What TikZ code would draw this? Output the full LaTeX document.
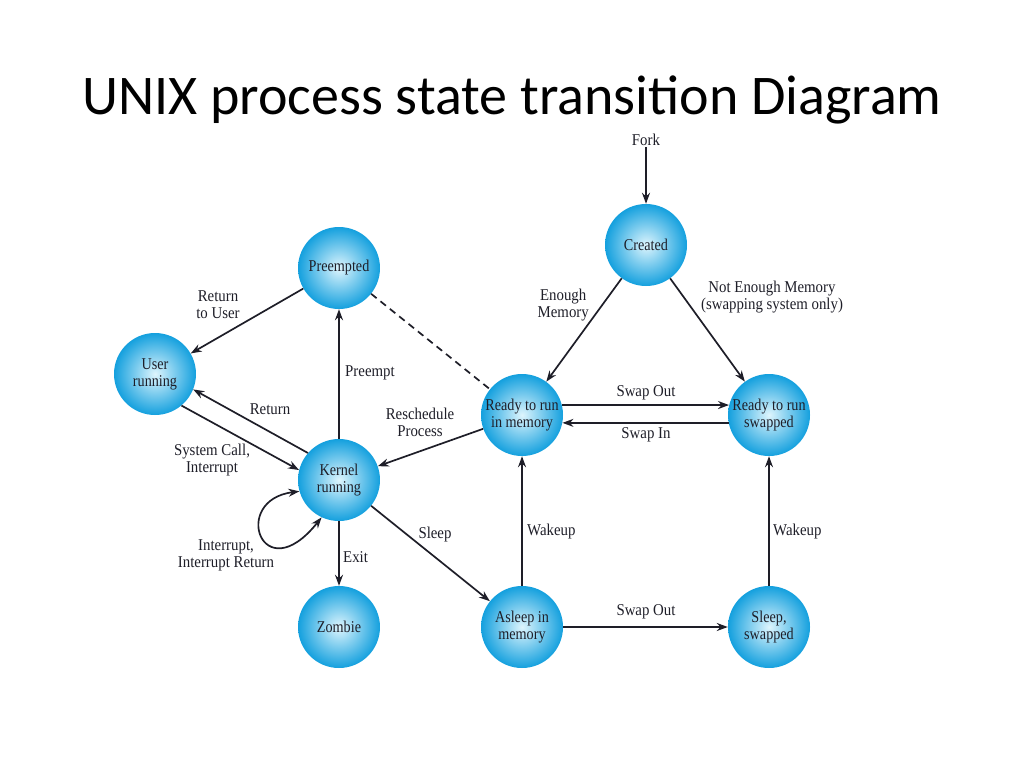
\documentclass[tikz,border=0pt]{standalone}
\usepackage{fontspec}
\setmainfont{Liberation Serif}[FakeStretch=0.9]
\newfontfamily\nodefont{Liberation Serif}[FakeStretch=0.86]
\newfontfamily\titlefont{Carlito}
\usetikzlibrary{arrows.meta}
\definecolor{ballin}{RGB}{222,245,253}
\definecolor{ballout}{RGB}{20,160,222}
\definecolor{ink}{RGB}{30,30,40}
\tikzset{
  state/.style={circle, minimum size=82pt, inner sep=0pt, shading=radial,
    inner color=ballin, outer color=ballout, align=center,
    font=\nodefont\fontsize{16.5}{17}\selectfont, text=ink},
  lbl/.style={font=\fontsize{16.5}{17}\selectfont, text=ink, align=center, inner sep=1pt},
  tip/.tip={Stealth[length=11pt,width=8pt]},
  arr/.style={-tip, line width=1.7pt, draw=ink},
  plain/.style={line width=1.7pt, draw=ink}
}
\begin{document}
\begin{tikzpicture}[x=1pt,y=-1pt]
\useasboundingbox (0,0) rectangle (1024,768);
\node[font=\titlefont\fontsize{56}{60}\selectfont] (title) at (512,100) {UNIX process state transition Diagram};

\node[state] (cr) at (646,245) {Created};
\node[state] (pe) at (339,268) {Preempted};
\node[state] (ur) at (155,374) {User\\running};
\node[state] (kr) at (339,480) {Kernel\\running};
\node[state] (zo) at (339,627) {Zombie};
\node[state] (rm) at (522,415) {Ready to run\\in memory};
\node[state] (rs) at (769,415) {Ready to run\\swapped};
\node[state] (am) at (522,627) {Asleep in\\memory};
\node[state] (ss) at (769,627) {Sleep,\\swapped};

\node[lbl] (fork) at (646,140) {Fork};
\draw[arr] (fork) -- (cr);

\draw[arr] (cr) -- (rm);
\node[lbl, anchor=east] (l1) at (590,305) {Enough\\Memory};
\draw[arr] (cr) -- (rs);
\node[lbl] (l2) at (772,297) {Not Enough Memory\\(swapping system only)};

\draw[arr] (pe) -- (ur);
\node[lbl] (l3) at (218,305) {Return\\to User};

\draw[arr] (kr) -- (pe);
\node[lbl, anchor=west] (l4) at (344,373) {Preempt};

\draw[plain, dashed, dash pattern=on 7pt off 5pt] (pe) -- (rm);

\draw[arr] (kr.139) -- (ur.-22);
\node[lbl] (l5) at (270,409) {Return};

\draw[arr] (ur.-50) -- (kr.166);
\node[lbl] (l6) at (212,460) {System Call,\\Interrupt};

\draw[tip-tip, line width=1.7pt, draw=ink]
  (kr.196) .. controls (230,500) and (262,592) .. (kr.245);
\node[lbl] (l7) at (226,555) {Interrupt,\\Interrupt Return};

\draw[arr] (kr) -- (zo);
\node[lbl, anchor=west] (l8) at (342,557) {Exit};

\draw[arr] (rm) -- (kr);
\node[lbl] (l9) at (420,422) {Reschedule\\Process};

\draw[arr] (kr) -- (am);
\node[lbl] (l10) at (435,535) {Sleep};

\draw[arr] (am) -- (rm);
\node[lbl, anchor=west] (l11) at (526,532) {Wakeup};

\draw[arr] (rm.14) -- (rs.166);
\node[lbl] (l12) at (646,393) {Swap Out};
\draw[arr] (rs.191) -- (rm.-11);
\node[lbl] (l13) at (646,435) {Swap In};

\draw[arr] (am) -- (ss);
\node[lbl] (l14) at (646,612) {Swap Out};

\draw[arr] (ss) -- (rs);
\node[lbl, anchor=west] (l15) at (772,532) {Wakeup};
\end{tikzpicture}
\end{document}
